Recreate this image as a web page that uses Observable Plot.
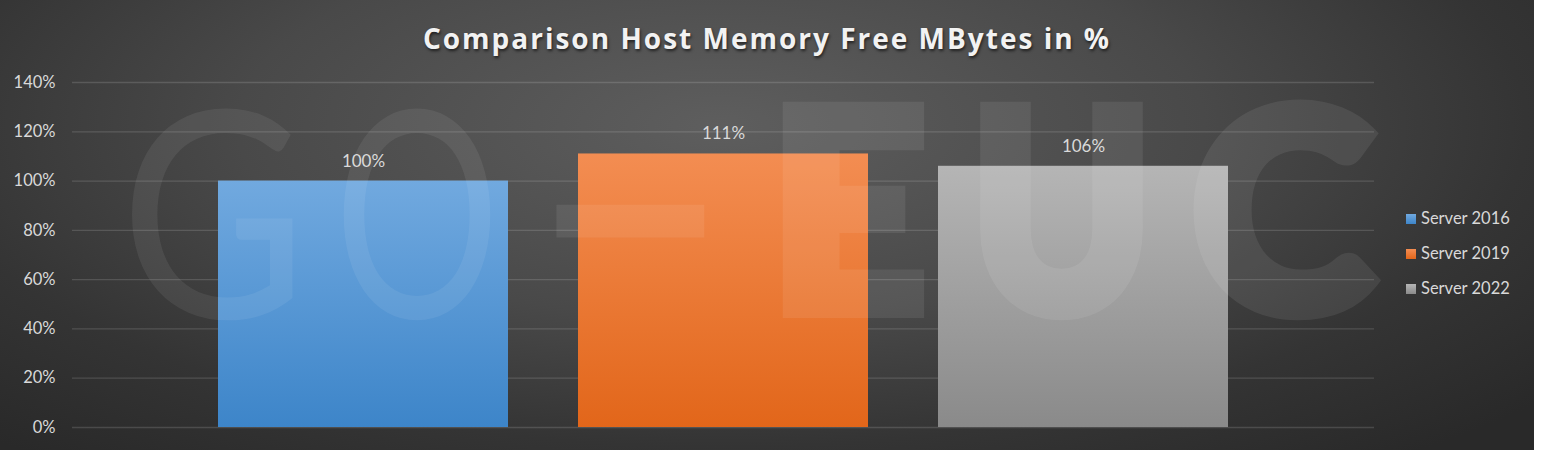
<!DOCTYPE html>
<html>
<head>
<meta charset="utf-8">
<script src="https://cdn.jsdelivr.net/npm/d3@7"></script>
<script src="https://cdn.jsdelivr.net/npm/@observablehq/plot@0.6"></script>
<style>
  html, body { margin: 0; padding: 0; background: #ffffff; }
  #chart {
    position: relative; width: 1534px; height: 450px; overflow: hidden;
    background: radial-gradient(ellipse 70% 95% at 47% 28%, #5e5e5e 0%, #494949 45%, #343434 75%, #292929 100%);
    font-family: Lato, "Open Sans", sans-serif;
  }
  #title {
    height: 60px; line-height: 76px; text-align: center; color: #f2f2f2;
    font-family: "Open Sans", Lato, sans-serif; font-weight: 700; font-size: 28px; letter-spacing: 2px;
    text-shadow: 1px 2px 3px rgba(0,0,0,0.6);
    position: relative; z-index: 2;
  }
  #plot { position: relative; z-index: 1; }
  #wm { position: absolute; left: 0; top: 0; z-index: 3; pointer-events: none; }
  #legend { position: absolute; left: 1406px; top: 208px; z-index: 4; color: #d9d9d9; font-size: 16.5px; }
  #legend div { height: 35px; display: flex; align-items: flex-start; }
  #legend span.sw { display: inline-block; width: 10px; height: 10px; margin-top: 6px; margin-right: 5px; }
</style>
</head>
<body>
<div id="chart">
  <div id="title">Comparison Host Memory Free MBytes in %</div>
  <div id="plot"></div>
  <svg id="wm" width="1534" height="450"></svg>
  <div id="legend"></div>
</div>
<script>
const series = ["Server 2016", "Server 2019", "Server 2022"];
const values = [100, 111, 106];
const yTicks = [0, 20, 40, 60, 80, 100, 120, 140];
const gradTop = ["#71a9df", "#f38d52", "#b5b5b5"];
const gradBottom = ["#3d85c9", "#e2661a", "#8a8a8a"];

// watermark letters (decorative logo text "GO-EUC")
const wmLetters = ["G", "O", "-", "E", "U", "C"];
const wmLeft = [120, 334, 526, 762, 963, 1184];
const wmWidth = [187, 166, 209, 172, 197, 197];
const wmHeavy = [false, false, true, true, true, true];

const data = series.map((s, i) => ({series: s, value: values[i]}));

const plot = Plot.plot({
  width: 1534,
  height: 390,
  marginLeft: 72,
  marginRight: 160,
  marginTop: 22,
  marginBottom: 23,
  style: {background: "transparent", color: "#d9d9d9", fontSize: "16.5px", fontFamily: "Lato, 'Open Sans', sans-serif"},
  x: {domain: series, paddingInner: 70/360, paddingOuter: 0.405, axis: null},
  y: {domain: [0, 140], ticks: yTicks, tickFormat: d => d + "%", tickSize: 0, tickPadding: 17, label: null},
  color: {domain: series, range: series.map((s, i) => `url(#grad${i})`)},
  marks: [
    Plot.ruleY(yTicks, {stroke: "#ffffff", strokeOpacity: 0.14, strokeWidth: 1.3}),
    Plot.barY(data, {x: "series", y: "value", fill: "series", style: "filter: drop-shadow(1px 1px 2px rgba(0,0,0,0.5))"}),
    Plot.text(data, {x: "series", y: "value", text: d => d.value + "%", dy: -20, fill: "#d9d9d9", fontSize: 17})
  ]
});

const svg = d3.select(plot);
const defs = svg.insert("defs", ":first-child");
series.forEach((s, i) => {
  const g = defs.append("linearGradient").attr("id", `grad${i}`).attr("x1", 0).attr("y1", 0).attr("x2", 0).attr("y2", 1);
  g.append("stop").attr("offset", "0%").attr("stop-color", gradTop[i]);
  g.append("stop").attr("offset", "100%").attr("stop-color", gradBottom[i]);
});
svg.selectAll("g[aria-label='y-axis tick label']").attr("fill", "#d9d9d9");
document.getElementById("plot").appendChild(plot);

// watermark
const wm = d3.select("#wm");
wmLetters.forEach((ch, i) => {
  const g = wm.append("g").attr("opacity", wmHeavy[i] ? 0.075 : 0.065);
  if (ch === "-") {
    g.append("text")
      .attr("x", wmLeft[i]).attr("y", 309)
      .attr("textLength", wmWidth[i]).attr("lengthAdjust", "spacingAndGlyphs")
      .attr("font-family", "Lato, sans-serif").attr("font-weight", 900).attr("font-size", 290)
      .attr("fill", "#fff").text(ch);
    return;
  }
  g.append("text")
    .attr("x", wmLeft[i] + (wmHeavy[i] ? 8 : 0)).attr("y", wmHeavy[i] ? 310 : 318)
    .attr("textLength", wmWidth[i] - (wmHeavy[i] ? 16 : 0)).attr("lengthAdjust", "spacingAndGlyphs")
    .attr("font-family", "Lato, sans-serif")
    .attr("font-weight", wmHeavy[i] ? 900 : 400)
    .attr("font-size", wmHeavy[i] ? 276 : 289)
    .attr("fill", "#fff")
    .attr("stroke", wmHeavy[i] ? "#fff" : "none")
    .attr("stroke-width", wmHeavy[i] ? 16 : 0)
    .attr("stroke-linejoin", "miter")
    .text(ch);
});

const legend = d3.select("#legend");
series.forEach((s, i) => {
  const row = legend.append("div");
  row.append("span").attr("class", "sw").style("background", `linear-gradient(${gradTop[i]}, ${gradBottom[i]})`);
  row.append("span").text(s);
});
</script>
</body>
</html>
